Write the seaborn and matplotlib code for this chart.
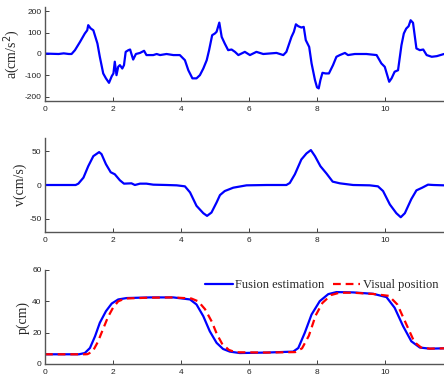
import numpy as np
import pandas as pd
import matplotlib
matplotlib.use("Agg")
import matplotlib.pyplot as plt
import seaborn as sns

# acceleration a(cm/s^2)
t_acc = [0.0, 0.2, 0.4, 0.55, 0.7, 0.78, 0.88, 1.03, 1.17, 1.24, 1.27, 1.34, 1.42, 1.54, 1.61,
         1.71, 1.79, 1.88, 1.96, 2.01, 2.05, 2.10, 2.15, 2.20, 2.27, 2.32, 2.37, 2.45, 2.50,
         2.52, 2.59, 2.67, 2.79, 2.91, 2.98, 3.18, 3.28, 3.38, 3.57, 3.77, 3.96, 4.11, 4.21,
         4.33, 4.45, 4.55, 4.65, 4.75, 4.82, 4.91, 4.99, 5.04, 5.12, 5.19, 5.28, 5.38, 5.48,
         5.58, 5.68, 5.87, 6.02, 6.21, 6.41, 6.80, 7.00, 7.09, 7.24, 7.31, 7.37, 7.44, 7.53,
         7.60, 7.66, 7.76, 7.83, 7.93, 7.99, 8.04, 8.09, 8.15, 8.24, 8.34, 8.46, 8.56, 8.66,
         8.81, 8.90, 9.10, 9.44, 9.74, 9.88, 9.98, 10.11, 10.18, 10.27, 10.37, 10.47, 10.54,
         10.61, 10.68, 10.74, 10.81, 10.91, 11.01, 11.11, 11.21, 11.36, 11.51, 11.72]
a_val = [2, 1, 0, 3, 0, 0, 18, 57, 96, 111, 135, 120, 111, 49, -13,
         -91, -114, -135, -104, -91, -36, -99, -60, -52, -68, -52, 10, 18, 21,
         10, -26, 0, 5, 15, -5, -5, 0, -5, 0, -5, -5, -29, -76,
         -114, -114, -99, -68, -29, 18, 88, 96, 104, 147, 80, 49, 18, 21,
         10, -5, 10, -5, 10, 0, 5, -5, 10, 80, 104, 139, 130, 124,
         127, 65, 33, -44, -122, -156, -161, -122, -88, -91, -91, -52, -13, -5,
         5, -5, 0, 0, -5, -44, -60, -130, -114, -83, -76, 41, 96,
         119, 130, 158, 146, 26, 18, 21, -5, -13, -10, 0]

# velocity v(cm/s)
t_vel = [0.0, 0.5, 0.9, 0.98, 1.13, 1.27, 1.42, 1.59, 1.66, 1.79, 1.93, 2.05, 2.20, 2.32,
         2.54, 2.64, 2.79, 2.98, 3.18, 3.57, 3.87, 4.11, 4.26, 4.45, 4.65, 4.76, 4.89,
         5.04, 5.14, 5.28, 5.53, 5.92, 6.51, 7.09, 7.19, 7.34, 7.53, 7.68, 7.81, 7.93,
         8.09, 8.27, 8.45, 8.66, 9.05, 9.54, 9.78, 9.93, 10.13, 10.32, 10.45, 10.57,
         10.76, 10.91, 11.08, 11.25, 11.41, 11.72]
v_val = [0, 0, 0, 2, 11, 28, 43, 49, 46, 31, 19, 16, 7, 2,
         2.5, 0, 2, 2, 0.5, 0, -0.5, -2, -11, -31, -42, -46, -41,
         -26, -15, -9, -4, -0.5, 0, 0, 3, 16, 38, 47, 52, 43,
         28, 17, 5, 2.5, 0, -0.5, -2, -9, -29, -42, -48, -42,
         -21, -8, -4, 0.5, 0, -0.5]

# position p(cm): fusion estimation
t_fus = [0.0, 1.0, 1.17, 1.32, 1.47, 1.61, 1.79, 1.96, 2.15, 2.40, 3.08, 3.77, 4.26, 4.45,
         4.65, 4.84, 5.04, 5.23, 5.43, 5.72, 6.51, 7.29, 7.44, 7.63, 7.83, 8.07, 8.32,
         8.56, 9.05, 9.64, 10.03, 10.27, 10.52, 10.76, 11.01, 11.30, 11.72]
p_fus = [6.2, 6.2, 7.0, 10.2, 17.7, 26.3, 33.7, 38.6, 41.2, 42.1, 42.5, 42.5, 41.2, 38.0,
         30.5, 20.9, 13.5, 9.6, 7.9, 7.0, 7.3, 7.9, 10.2, 19.9, 31.6, 40.1, 44.6,
         45.9, 45.7, 44.8, 42.7, 35.9, 24.1, 14.5, 10.5, 9.8, 10.0]

# position p(cm): visual position
t_vis = [0.0, 1.2, 1.25, 1.40, 1.55, 1.70, 1.85, 2.0, 2.15, 2.35, 3.0, 3.77, 4.3, 4.5,
         4.7, 4.9, 5.05, 5.2, 5.4, 5.6, 6.5, 7.35, 7.55, 7.75, 7.95, 8.15, 8.4, 8.65,
         9.05, 9.64, 10.1, 10.35, 10.6, 10.85, 11.05, 11.3, 11.72]
p_vis = [6.2, 6.2, 6.3, 8.0, 14.0, 22.0, 30.0, 36.0, 40.0, 41.8, 42.3, 42.5, 41.8, 40.0,
         35.0, 27.0, 19.0, 13.0, 9.0, 7.5, 7.3, 7.6, 10.0, 18.0, 31.0, 39.0, 44.0, 45.5,
         45.5, 44.7, 43.5, 38.0, 26.0, 14.0, 10.5, 9.8, 10.0]

x_ticks = [0, 2, 4, 6, 8, 10]

sns.set_style("ticks")
plt.rcParams['font.family'] = ['Liberation Sans', 'DejaVu Sans']
plt.rcParams['axes.unicode_minus'] = False

fig = plt.figure(figsize=(4.44, 3.77), dpi=100)
left, width, h = 45 / 444, (444 - 45) / 444, 94 / 377
ax1 = fig.add_axes([left, 1 - 101 / 377, width, h])
ax2 = fig.add_axes([left, 1 - 232 / 377, width, h])
ax3 = fig.add_axes([left, 1 - 364 / 377, width, h])

lw = 1.6
sns.lineplot(x=t_acc, y=a_val, ax=ax1, color=(0, 0, 1), linewidth=lw)
sns.lineplot(x=t_vel, y=v_val, ax=ax2, color=(0, 0, 1), linewidth=lw)
sns.lineplot(x=t_fus, y=p_fus, ax=ax3, color=(0, 0, 1), linewidth=lw, label="Fusion estimation")
sns.lineplot(x=t_vis, y=p_vis, ax=ax3, color=(1, 0, 0), linewidth=lw, linestyle=(0, (3.5, 2.2)),
             label="Visual position")

ax1.set_ylim(-220, 220)
ax1.set_yticks([-200, -100, 0, 100, 200])
ax2.set_ylim(-70, 70)
ax2.set_yticks([-50, 0, 50])
ax3.set_ylim(0, 60)
ax3.set_yticks([0, 20, 40, 60])

serif = ['Liberation Serif', 'DejaVu Serif']
ax1.set_ylabel("a(cm/s$^2$)", family=serif, fontsize=10, labelpad=1.5)
ax2.set_ylabel("v(cm/s)", family=serif, fontsize=10, labelpad=1.5)
ax3.set_ylabel("p(cm)", family=serif, fontsize=10, labelpad=1.5)

for ax in (ax1, ax2, ax3):
    ax.set_xlim(0, 11.72)
    ax.set_xticks(x_ticks)
    ax.set_xlabel("")
    ax.tick_params(direction='in', length=3, width=0.6, labelsize=6, colors='#222222')
    ax.tick_params(axis='y', pad=2.5)
    ax.tick_params(axis='x', pad=3.5)
    for s in ('top', 'right'):
        ax.spines[s].set_visible(False)
    for s in ('left', 'bottom'):
        ax.spines[s].set_color('#555555')
        ax.spines[s].set_linewidth(1.0)

leg = ax3.legend(loc='center right', ncol=2, frameon=False, prop={'family': serif, 'size': 9},
                 handlelength=2.2, columnspacing=0.65, handletextpad=0.2, borderaxespad=0,
                 borderpad=0, bbox_to_anchor=(0.985, 0.84))
fig.savefig("out.png", dpi=100)
